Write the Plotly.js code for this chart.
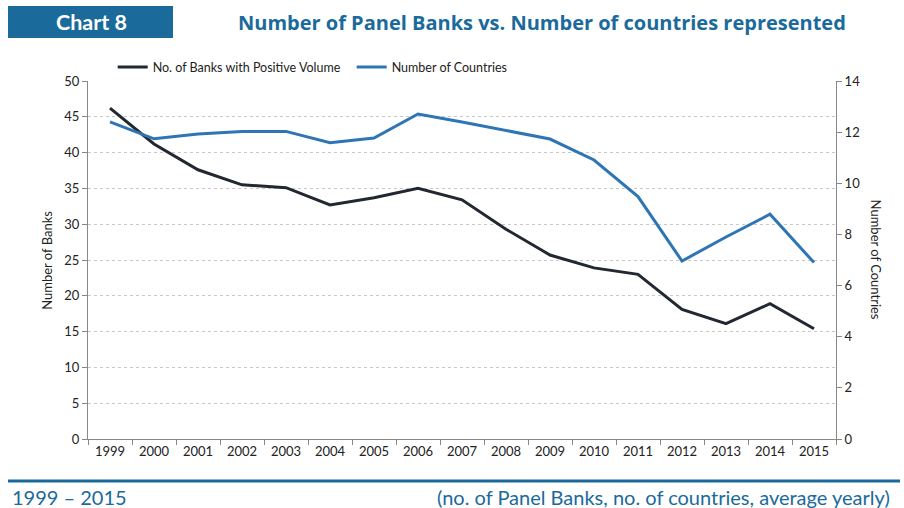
<!DOCTYPE html>
<html><head><meta charset="utf-8">
<script src="https://cdn.plot.ly/plotly-3.0.1.min.js"></script>
<style>html,body{margin:0;padding:0;background:#fff;}#chart{width:904px;height:508px;}</style>
</head><body><div id="chart"></div>
<script>
const years = ['1999','2000','2001','2002','2003','2004','2005','2006','2007','2008','2009','2010','2011','2012','2013','2014','2015'];
const banks = [46.2, 41.2, 37.6, 35.5, 35.1, 32.7, 33.7, 35.0, 33.4, 29.3, 25.7, 23.9, 23.0, 18.1, 16.1, 18.9, 15.4];
const countries = [12.4, 11.74, 11.93, 12.03, 12.03, 11.59, 11.77, 12.71, 12.4, 12.08, 11.73, 10.91, 9.48, 6.96, 7.9, 8.79, 6.9];
const bankTicks = [0,5,10,15,20,25,30,35,40,45,50];
const countryTicks = [0,2,4,6,8,10,12,14];

const blue = '#1a6a9b';
const FF = 'Lato, Open Sans, sans-serif';
const tickFont = {family: FF, size: 13, color: '#222'};

const traces = [
  {x: years, y: banks, name: 'No. of Banks with Positive Volume', type: 'scatter', mode: 'lines',
   line: {color: '#222831', width: 3}, yaxis: 'y'},
  {x: years, y: countries, name: 'Number of Countries', type: 'scatter', mode: 'lines',
   line: {color: '#2e75b6', width: 3}, yaxis: 'y2'}
];

const layout = {
  width: 904, height: 508,
  margin: {l: 88, r: 68, t: 81, b: 69},
  paper_bgcolor: '#fff', plot_bgcolor: '#fff',
  showlegend: true,
  legend: {orientation: 'h', x: 0.033, y: 0.996, xanchor: 'left', yanchor: 'bottom',
    font: {family: FF, size: 12.5, color: '#222'}, entrywidth: 194, entrywidthmode: 'pixels', tracegroupgap: 0},
  xaxis: {type: 'category', tickson: 'boundaries', ticks: 'outside', ticklen: 5, tickcolor: '#888',
    showline: true, linecolor: '#888', linewidth: 1, showgrid: false, tickfont: tickFont,
    range: [-0.5, 16.5], fixedrange: true},
  yaxis: {range: [0, 50], tickvals: bankTicks, ticks: 'outside', ticklen: 5, tickcolor: '#888',
    showline: true, linecolor: '#888', linewidth: 1, showgrid: true, gridcolor: '#c8c8c8', griddash: 'dot',
    zeroline: false, tickfont: tickFont},
  yaxis2: {range: [0, 14], tickvals: countryTicks, overlaying: 'y', side: 'right', ticks: 'outside', ticklen: 5,
    tickcolor: '#888', showline: true, linecolor: '#888', linewidth: 1, showgrid: false, zeroline: false,
    tickfont: tickFont},
  annotations: [
    {text: 'Number of Banks', xref: 'paper', yref: 'paper', x: -0.055, y: 0.5, textangle: -90,
     showarrow: false, font: {family: FF, size: 13, color: '#222'}, xanchor: 'center', yanchor: 'middle'},
    {text: 'Number of Countries', xref: 'paper', yref: 'paper', x: 1.054, y: 0.5, textangle: 90,
     showarrow: false, font: {family: FF, size: 13, color: '#222'}, xanchor: 'center', yanchor: 'middle'},
    {text: '<b>Chart 8</b>', xref: 'paper', yref: 'paper', x: (91 - 88) / 748, y: 1 + (81 - 22) / 358,
     showarrow: false, font: {family: FF, size: 21.5, color: '#fff'}, xanchor: 'center', yanchor: 'middle'},
    {text: '<b>Number of Panel Banks vs. Number of countries represented</b>', xref: 'paper', yref: 'paper',
     x: (542 - 88) / 748, y: 1 + (81 - 23) / 358, showarrow: false,
     font: {family: 'Open Sans, sans-serif', size: 20, color: blue}, xanchor: 'center', yanchor: 'middle'},
    {text: '1999 – 2015', xref: 'paper', yref: 'paper', x: (10 - 88) / 748, y: -(497 - 439) / 358,
     showarrow: false, font: {family: FF, size: 20, color: blue}, xanchor: 'left', yanchor: 'middle'},
    {text: '(no. of Panel Banks, no. of countries, average yearly)', xref: 'paper', yref: 'paper',
     x: (892 - 88) / 748, y: -(497 - 439) / 358, showarrow: false,
     font: {family: FF, size: 20, color: blue}, xanchor: 'right', yanchor: 'middle'}
  ],
  shapes: [
    {type: 'rect', xref: 'paper', yref: 'paper', x0: (8 - 88) / 748, x1: (173 - 88) / 748,
     y0: 1 + (81 - 38) / 358, y1: 1 + (81 - 6) / 358, fillcolor: blue, line: {width: 0}, layer: 'below'},
    {type: 'line', xref: 'paper', yref: 'paper', x0: (8 - 88) / 748, x1: (900 - 88) / 748,
     y0: -(481 - 439) / 358, y1: -(481 - 439) / 358, line: {color: blue, width: 3}}
  ]
};

Plotly.newPlot('chart', traces, layout, {displayModeBar: false, staticPlot: true});
</script></body></html>
